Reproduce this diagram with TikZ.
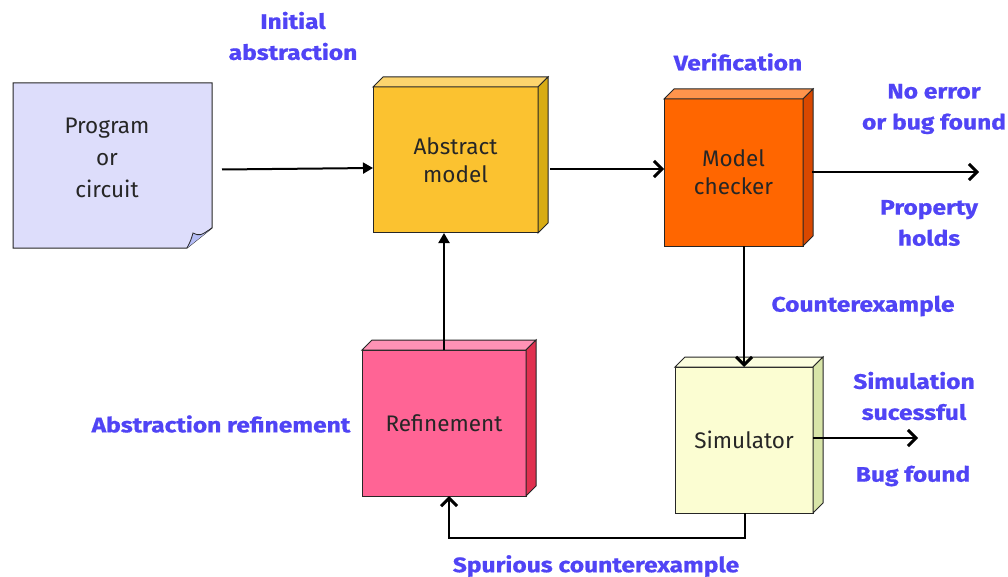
\documentclass[tikz,border=0pt]{standalone}
\usepackage{fontspec}
\setmainfont{Fira Sans}
\newfontfamily\lblfont[FakeStretch=1.17, BoldFeatures={FakeBold=0.8}]{Fira Sans}
\usetikzlibrary{arrows.meta}
\definecolor{labelblue}{HTML}{5044F5}
\definecolor{progfill}{HTML}{DDDDFB}
\definecolor{flapfill}{HTML}{B4BCF5}
\definecolor{absfill}{HTML}{FBC230}
\definecolor{absside}{HTML}{D8AC14}
\definecolor{mcfill}{HTML}{FF6600}
\definecolor{mcside}{HTML}{D94800}
\definecolor{reffill}{HTML}{FF6495}
\definecolor{refside}{HTML}{E0304F}
\definecolor{simfill}{HTML}{FBFDD2}
\definecolor{simside}{HTML}{D8E5A8}
\tikzset{
  box/.style={draw=black!85, line width=1pt, outer sep=0pt, inner sep=0pt,
    align=center, text=black!85, font=\fontsize{22.5}{28}\selectfont},
  lbl/.style={text=labelblue, align=center, font=\lblfont\fontsize{21}{31}\selectfont\bfseries},
  conn/.style={line width=2pt, -{Straight Barb[length=8pt,width=16pt,line width=3pt]}},
  tri/.style={line width=2pt, -{Triangle[length=10pt,width=11pt]}}
}
% front face node, then top and side faces
\newcommand{\cubeside}[3]{%
  \draw[black!85, line width=1pt, fill=#2!70!white] (#1.north west) -- ++(10,-10) -- ([xshift=10pt,yshift=10pt]#1.north east) -- (#1.north east) -- cycle;
  \draw[black!85, line width=1pt, fill=#3] (#1.north east) -- ([xshift=10pt,yshift=10pt]#1.north east) -- ([xshift=10pt,yshift=10pt]#1.south east) -- (#1.south east) -- cycle;
}
\begin{document}
\begin{tikzpicture}[x=1pt, y=-1pt]
  \useasboundingbox (0,0) rectangle (1008,577);

  % program sheet with folded corner
  \node[box, draw=none, minimum width=199pt, minimum height=165pt] (prog) at (112.5,165.5) {};
  \draw[black!85, line width=1pt, fill=progfill] (prog.north west) -- (prog.north east) -- (212,228) -- (187,248) -- (prog.south west) -- cycle;
  \draw[black!85, line width=0.8pt, fill=flapfill] (187,248) .. controls (191,240) .. (193,233) .. controls (200,236) .. (212,228);
  \node[box, draw=none, font=\fontsize{22.5}{32}\selectfont] (progtext) at (107,158) {Program\\or\\circuit};

  % blocks
  \node[box, fill=absfill, minimum width=165pt, minimum height=146pt] (abs) at (455.5,160) {Abstract\\model};
  \cubeside{abs}{absfill}{absside}
  \node[box, fill=mcfill, minimum width=139pt, minimum height=147pt] (mc) at (733.5,172.5) {Model\\checker};
  \cubeside{mc}{mcfill}{mcside}
  \node[box, fill=reffill, minimum width=164pt, minimum height=146pt] (ref) at (444,423) {Refinement};
  \cubeside{ref}{reffill}{refside}
  \node[box, fill=simfill, minimum width=138pt, minimum height=146pt] (sim) at (744,440) {Simulator};
  \cubeside{sim}{simfill}{simside}

  \coordinate (out1) at (979,172);
  \coordinate (out2) at (918,438);
  \coordinate (loop) at (745,538);

  % connectors
  \draw[tri] ([xshift=10pt,yshift=-4pt]prog.east) -- ([yshift=-8pt]abs.west);
  \draw[conn] ([xshift=12pt,yshift=-9pt]abs.east) -- ([yshift=3.5pt]mc.west);
  \draw[conn] ([xshift=9pt,yshift=0.5pt]mc.east) -- (out1);
  \draw[conn] (sim.north |- mc.south) -- (sim.north);
  \draw[conn] ([yshift=2pt]sim.east) -- (out2);
  \draw[conn] ([xshift=1pt]sim.south) -- (loop) -| ([xshift=5pt]ref.south);
  \draw[tri] (ref.north) -- (ref.north |- abs.south);

  % labels
  \node[lbl] (linit) at (293,36) {Initial\\abstraction};
  \node[lbl] (lver) at (738,62) {Verification};
  \node[lbl] (lnoerr) at (934,109) {No error\\or bug found};
  \node[lbl] (lprop) at (929,223) {Property\\holds};
  \node[lbl] (lcex) at (863,306) {Counterexample};
  \node[lbl] (lsim) at (914,396) {Simulation\\sucessful};
  \node[lbl] (lbug) at (913,476) {Bug found};
  \node[lbl] (lref) at (221,424) {Abstraction refinement};
  \node[lbl] (lspur) at (596,566) {Spurious counterexample};
\end{tikzpicture}
\end{document}
